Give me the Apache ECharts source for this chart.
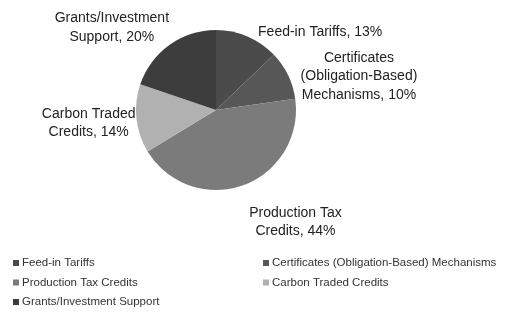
<!DOCTYPE html>
<html>
<head>
  <meta charset="utf-8">
  <title>Support mechanisms</title>
  <script src="https://cdn.jsdelivr.net/npm/echarts@6/dist/echarts.min.js"></script>
</head>
<body style="margin:0;background:#fff">
<div id="main" style="width:525px;height:312px;"></div>
<script type="text/javascript">
  // slices, clockwise from 12 o'clock
  var names = ['Feed-in Tariffs', 'Certificates (Obligation-Based) Mechanisms', 'Production Tax Credits', 'Carbon Traded Credits', 'Grants/Investment Support'];
  var values = [13, 10, 44, 14, 20];
  var labelText = ['Feed-in Tariffs', 'Certificates\n(Obligation-Based)\nMechanisms', 'Production Tax\nCredits', 'Carbon Traded\nCredits', 'Grants/Investment\nSupport'];
  var colors = ['#4b4b4b', '#575757', '#7b7b7b', '#b1b1b1', '#3d3d3d'];

  // nudges for the outside labels (px)
  var labelShift = [[4, -1], [4, 3], [0, 33], [8, 4], [7, -14]];

  var chart = echarts.init(document.getElementById('main'));

  var data = names.map(function (n, i) {
    return { name: n, value: values[i], itemStyle: { color: colors[i] } };
  });

  var legendStyle = {
    orient: 'vertical',
    height: 80,
    itemWidth: 6,
    itemHeight: 6,
    itemGap: 7.5,
    icon: 'rect',
    textStyle: { fontFamily: 'Liberation Sans, Arial', fontSize: 11.5, color: '#333', padding: [0, 0, 0, -2] }
  };

  var option = {
    animation: false,
    legend: [
      Object.assign({ left: 8, top: 252, data: [names[0], names[2], names[4]] }, legendStyle),
      Object.assign({ left: 258, top: 252, data: [names[1], names[3]] }, legendStyle)
    ],
    series: [{
      type: 'pie',
      center: [216, 110],
      radius: 80,
      startAngle: 90,
      clockwise: true,
      label: {
        show: true,
        position: 'outside',
        fontFamily: 'Liberation Sans, Arial',
        fontSize: 14,
        lineHeight: 18.5,
        color: '#222',
        formatter: function (p) {
          return labelText[p.dataIndex] + ', ' + p.value + '%';
        }
      },
      labelLine: { show: false, length: 4, length2: 0 },
      labelLayout: function (p) {
        var r = p.labelRect;
        var s = labelShift[p.dataIndex];
        return {
          x: r.x + r.width / 2 + s[0],
          y: r.y + r.height / 2 + s[1],
          align: 'center',
          verticalAlign: 'middle'
        };
      },
      data: data
    }]
  };

  chart.setOption(option);
</script>
</body>
</html>
